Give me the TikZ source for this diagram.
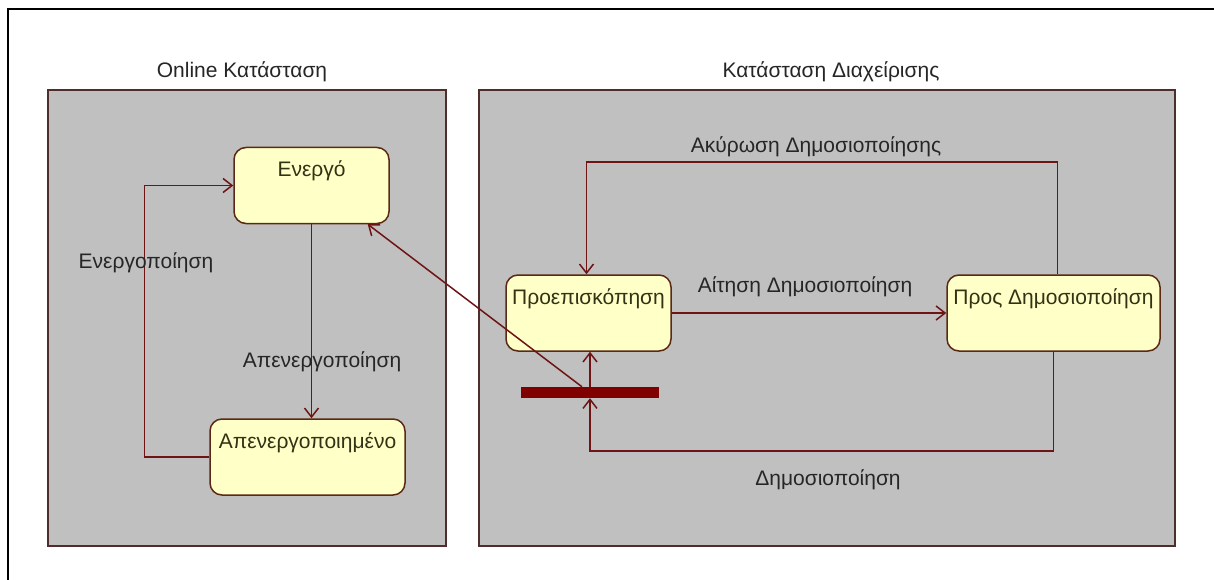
\documentclass[tikz,border=0pt]{standalone}
\usepackage{fontspec}
\setmainfont{Liberation Sans}
\usepackage{xcolor}
\usetikzlibrary{positioning, arrows.meta}

\definecolor{boxgray}{RGB}{192,192,192}
\definecolor{boxline}{RGB}{80,45,45}
\definecolor{stfill}{RGB}{255,255,200}
\definecolor{stline}{RGB}{90,40,20}
\definecolor{trline}{RGB}{110,20,20}
\definecolor{bardark}{RGB}{128,0,0}
\definecolor{sttext}{RGB}{50,50,20}

\begin{document}
\begin{tikzpicture}[x=1pt, y=-1pt,
    >={Straight Barb[length=9pt,width=14pt]},
    every node/.style={font=\fontsize{21}{25}\selectfont},
    grp/.style={draw=boxline, line width=2pt, fill=boxgray, inner sep=0pt},
    st/.style={draw=stline, line width=1.5pt, fill=stfill, rounded corners=12pt,
        text=sttext, inner xsep=0pt, inner ysep=0pt, text height=29pt, text depth=47pt},
    tr/.style={draw=trline, line width=1.5pt, ->},
    lbl/.style={text=black!85}]
    \useasboundingbox (0,0) rectangle (1214,580);
    \fill[white] (0,0) rectangle (1214,580);
    \draw[line width=2.5pt] (8,580) |- (1214,9);

    % regions
    \node[grp, minimum width=398pt, minimum height=455pt] (onl) at (247,318) {};
    \node[grp, minimum width=696pt, minimum height=455pt] (adm) at (827,318) {};
    \node[lbl] at (242,72) {Online Κατάσταση};
    \node[lbl] at (831,72) {Κατάσταση Διαχείρισης};

    % states
    \node[st, minimum width=155pt] (enr) at (311.5,185.5) {Ενεργό};
    \node[st, minimum width=195pt] (apn) at (307.5,457) {Απενεργοποιημένο};
    \node[st, minimum width=165pt] (prv) at (588.5,313) {Προεπισκόπηση};
    \node[st, minimum width=213pt] (prd) at (1053.5,313) {Προς Δημοσιοποίηση};
    \node[fill=bardark, minimum width=138pt, minimum height=11pt, inner sep=0pt] (bar) at (590,392.5) {};

    % transitions
    \draw[tr] (enr.south) -- (enr.south |- apn.north);
    \draw[tr] (apn.west) -- ++(-65,0) |- (enr.west);
    \draw[tr] ([xshift=-8pt]bar.north) -- ([xshift=-22pt]enr.south east);
    \draw[tr] (prv.east) -- (prd.west);
    \draw[tr] ([xshift=4pt]prd.north) -- ++(0,-112) -| ([xshift=-2pt]prv.north);
    \draw[tr] (prd.south) -- ++(0,99) -| (bar.south);
    \draw[tr] (bar.north) -- (bar.north |- prv.south);

    % labels
    \node[lbl] at (146,263) {Ενεργοποίηση};
    \node[lbl] at (322,362) {Απενεργοποίηση};
    \node[lbl] at (805,287) {Αίτηση Δημοσιοποίηση};
    \node[lbl] at (816,147) {Ακύρωση Δημοσιοποίησης};
    \node[lbl] at (828,480) {Δημοσιοποίηση};
\end{tikzpicture}
\end{document}
